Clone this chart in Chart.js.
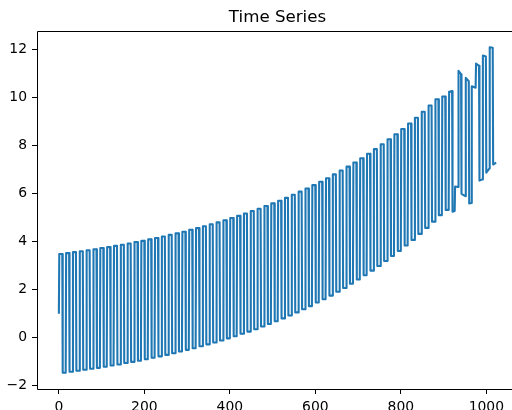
<!DOCTYPE html>
<html>
<head>
<meta charset="utf-8">
<script src="https://cdn.jsdelivr.net/npm/chart.js@4"></script>
<style>
  html, body { margin: 0; padding: 0; background: #fff; overflow: hidden; }
  #wrap { position: relative; width: 520px; height: 410px; }
</style>
</head>
<body>
<div id="wrap"><canvas id="chart" width="520" height="410"></canvas></div>
<script>
// sample length of one square-wave cycle
const period = 16;
const startValue = 1.0;

// level of the high plateau for each regular cycle
const highs = [
  3.49, 3.53, 3.57, 3.61, 3.65, 3.69, 3.74, 3.78, 3.83, 3.88,
  3.93, 3.99, 4.04, 4.10, 4.16, 4.22, 4.29, 4.35, 4.42, 4.50,
  4.57, 4.65, 4.73, 4.81, 4.90, 4.99, 5.08, 5.18, 5.28, 5.38,
  5.49, 5.60, 5.71, 5.83, 5.96, 6.09, 6.22, 6.36, 6.50, 6.65,
  6.81, 6.97, 7.13, 7.30, 7.48, 7.67, 7.86, 8.06, 8.27, 8.48,
  8.70, 8.93, 9.17, 9.42, 9.68, 9.94, 10.05
];

// level of the low plateau for each regular cycle
const lows = [
  -1.45, -1.41, -1.37, -1.33, -1.29, -1.25, -1.20, -1.15, -1.11, -1.05,
  -1.00, -0.95, -0.89, -0.83, -0.77, -0.71, -0.64, -0.57, -0.50, -0.43,
  -0.35, -0.27, -0.19, -0.11, -0.02, 0.07, 0.17, 0.26, 0.36, 0.47,
  0.58, 0.69, 0.81, 0.93, 1.06, 1.19, 1.32, 1.47, 1.61, 1.76,
  1.92, 2.08, 2.25, 2.43, 2.61, 2.80, 2.99, 3.20, 3.41, 3.62,
  3.85, 4.08, 4.33, 4.58, 4.84, 5.11, 5.33
];

// irregular end of the series (sample index, value)
const tailX = [913, 920, 921, 926, 927, 934, 935, 941, 942, 951, 952, 959, 960, 965,
  966, 975, 976, 983, 984, 991, 992, 999, 1000, 1007, 1008, 1015, 1016, 1023];
const tailY = [10.25, 10.28, 5.25, 5.28, 6.3, 6.28, 11.12, 10.98, 6.0, 5.9, 10.83, 10.69, 5.6, 5.62,
  10.48, 10.42, 11.42, 11.33, 6.55, 6.6, 11.76, 11.72, 6.88, 7.05, 12.1, 12.08, 7.22, 7.3];

const xTicks = [0, 200, 400, 600, 800, 1000];
const yTicks = [-2, 0, 2, 4, 6, 8, 10, 12];

const points = [{ x: 0, y: startValue }];
highs.forEach((h, k) => {
  const t = k * period;
  points.push({ x: t + 1, y: h }, { x: t + 8, y: h });
  points.push({ x: t + 9, y: lows[k] }, { x: t + 16, y: lows[k] });
});
tailX.forEach((t, i) => points.push({ x: t, y: tailY[i] }));

const font = "'DejaVu Sans', sans-serif";
Chart.defaults.font.family = font;
Chart.defaults.color = "#000";

// axes frame: left, top and bottom spines (the right one falls outside the picture)
const frame = {
  id: "frame",
  afterDatasetsDraw(chart) {
    const { ctx, chartArea: a } = chart;
    const l = Math.round(a.left) + 0.5, t = Math.round(a.top) + 0.5, b = Math.round(a.bottom) + 0.5;
    const r = Math.round(a.right) + 0.5;
    ctx.save();
    ctx.strokeStyle = "#000";
    ctx.lineWidth = 1;
    ctx.beginPath();
    ctx.moveTo(r, t);
    ctx.lineTo(l, t);
    ctx.lineTo(l, b);
    ctx.lineTo(r, b);
    ctx.stroke();
    ctx.restore();
  }
};

const minus = v => String(v).replace("-", "\u2212");

new Chart(document.getElementById("chart"), {
  type: "line",
  data: {
    datasets: [{
      data: points,
      borderColor: "#1f77b4",
      borderWidth: 2.08,
      borderJoinStyle: "round",
      pointRadius: 0,
      tension: 0,
      fill: false
    }]
  },
  options: {
    responsive: false,
    animation: false,
    parsing: false,
    layout: { padding: { left: 0, right: 2, top: 0, bottom: 0 } },
    plugins: {
      legend: { display: false },
      tooltip: { enabled: false },
      title: {
        display: true,
        text: "Time Series",
        fullSize: false,
        color: "#000",
        font: { family: font, size: 16.67, weight: "normal", lineHeight: 1.2 },
        padding: { top: 8, bottom: 3 }
      }
    },
    scales: {
      x: {
        type: "linear",
        min: -51.15,
        max: 1074.15,
        afterBuildTicks: s => { s.ticks = xTicks.map(v => ({ value: v })); },
        afterFit: s => { s.height = 21; },
        grid: { drawOnChartArea: false, drawTicks: true, tickLength: 5, color: "#000" },
        border: { display: false },
        ticks: { color: "#000", font: { size: 13.9 }, padding: 5, maxRotation: 0, autoSkip: false,
          callback: v => minus(v) }
      },
      y: {
        type: "linear",
        min: -2.13,
        max: 12.78,
        afterBuildTicks: s => { s.ticks = yTicks.map(v => ({ value: v })); },
        afterFit: s => { s.width = 37; },
        grid: { drawOnChartArea: false, drawTicks: true, tickLength: 5, color: "#000" },
        border: { display: false },
        ticks: { color: "#000", font: { size: 13.9 }, padding: 5, autoSkip: false,
          callback: v => minus(v) }
      }
    }
  },
  plugins: [frame]
});
</script>
</body>
</html>
